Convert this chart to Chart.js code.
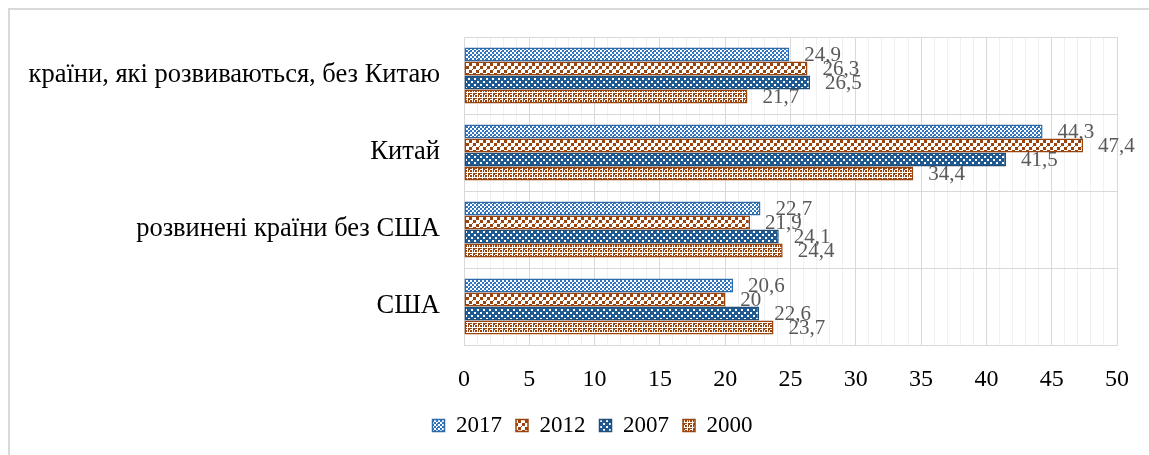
<!DOCTYPE html>
<html>
<head>
<meta charset="utf-8">
<script src="https://cdn.jsdelivr.net/npm/chart.js@4"></script>
<style>
  html, body { margin: 0; padding: 0; background: #fff; overflow: hidden; }
  #wrap { position: relative; width: 1149px; height: 455px; }
  #frame { position: absolute; left: 8px; top: 8px; width: 1160px; height: 470px; border: 2px solid #d9d9d9; box-sizing: border-box; }
  canvas { position: absolute; left: 0; top: 0; }
</style>
</head>
<body>
<div id="wrap">
  <div id="frame"></div>
  <canvas id="grafico" width="1149" height="455"></canvas>
</div>
<script>
// Categorías y series
const categorias = ["країни, які розвиваються, без Китаю", "Китай", "розвинені країни без США", "США"];
const anos = ["2017", "2012", "2007", "2000"];
const v2017 = [24.9, 44.3, 22.7, 20.6];
const v2012 = [26.3, 47.4, 21.9, 20];
const v2007 = [26.5, 41.5, 24.1, 22.6];
const v2000 = [21.7, 34.4, 24.4, 23.7];

const fuente = "Liberation Serif, Times New Roman, serif";

// Patrones de relleno tipo Excel
function patron(w, h, fondo, color, celdas) {
  const c = document.createElement("canvas");
  c.width = w; c.height = h;
  const g = c.getContext("2d");
  g.fillStyle = fondo;
  g.fillRect(0, 0, w, h);
  g.fillStyle = color;
  celdas.forEach(r => g.fillRect(r[0], r[1], r[2], r[3]));
  return g.createPattern(c, "repeat");
}

const ctx = document.getElementById("grafico").getContext("2d");

const azul = "#2f75c0";
const azulOsc = "#1f5a92";
const marron = "#9a430c";

// 2017: damero azul
const p2017 = patron(8, 4, "#ffffff", azul, [[0,0,2,2],[2,2,2,2],[4,0,2,2],[6,2,2,2],[5,3,1,1]]);
// 2012: confeti grande marrón
const p2012 = patron(7, 7, "#ffffff", marron, [[0,0,3,3],[4,3,3,3],[3,6,1,1]]);
// 2007: azul oscuro con puntos blancos
const p2007 = patron(6, 6, azulOsc, "#ffffff", [[0,0,2,2],[3,3,2,2]]);
// 2000: cuadrícula pequeña marrón
const p2000 = patron(5, 5, "#ffffff", marron, [[0,0,2,2],[3,0,1,2],[0,3,2,1],[3,3,2,2]]);

// Etiquetas de valor
const etiquetas = {
  id: "etiquetas",
  afterDatasetsDraw(chart) {
    const c = chart.ctx;
    c.save();
    c.font = "21px " + fuente;
    c.fillStyle = "#595959";
    c.textAlign = "left";
    c.textBaseline = "middle";
    chart.data.datasets.forEach((ds, i) => {
      chart.getDatasetMeta(i).data.forEach((bar, j) => {
        const txt = String(ds.data[j]).replace(".", ",");
        c.fillText(txt, bar.x + 15, bar.y + 1);
      });
    });
    c.restore();
  }
};

// mover la leyenda un poco a la derecha, como en el original
const moverLeyenda = {
  id: "moverLeyenda",
  afterLayout(chart) {
    chart.legend.left += 34;
    chart.legend.right += 34;
  }
};

new Chart(ctx, {
  type: "bar",
  data: {
    labels: categorias,
    datasets: [
      { label: anos[0], data: v2017, backgroundColor: p2017, borderColor: "#2e6aa8" },
      { label: anos[1], data: v2012, backgroundColor: p2012, borderColor: marron },
      { label: anos[2], data: v2007, backgroundColor: p2007, borderColor: "#1f4e79" },
      { label: anos[3], data: v2000, backgroundColor: p2000, borderColor: marron }
    ]
  },
  options: {
    indexAxis: "y",
    responsive: false,
    animation: false,
    datasets: {
      bar: { categoryPercentage: 0.73, barPercentage: 1, borderWidth: 1.5, borderSkipped: false }
    },
    layout: { padding: { left: 0, right: 32, top: 37, bottom: 8 } },
    scales: {
      x: {
        min: 0, max: 50,
        ticks: {
          stepSize: 1, autoSkip: false, maxRotation: 0, padding: 20,
          color: "#000", font: { family: fuente, size: 24 },
          callback: v => (v % 5 === 0 ? v : "")
        },
        grid: {
          drawTicks: false,
          color: c => (c.tick && c.tick.value % 5 === 0 ? "#d9d9d9" : "#f0f0f0")
        },
        border: { color: "#d9d9d9" },
        afterFit: s => { s.height = 55; }
      },
      y: {
        ticks: { padding: 24, color: "#000", font: { family: fuente, size: 26.5 } },
        grid: { drawTicks: false, color: "#d9d9d9" },
        border: { color: "#d9d9d9" },
        afterFit: s => { s.width = 464; s.paddingTop = 0; s.paddingBottom = 0; }
      }
    },
    plugins: {
      legend: {
        position: "bottom",
        labels: { boxWidth: 12, boxHeight: 12, padding: 14, color: "#000", font: { family: fuente, size: 23 } }
      },
      tooltip: { enabled: false }
    }
  },
  plugins: [etiquetas, moverLeyenda]
});
</script>
</body>
</html>
